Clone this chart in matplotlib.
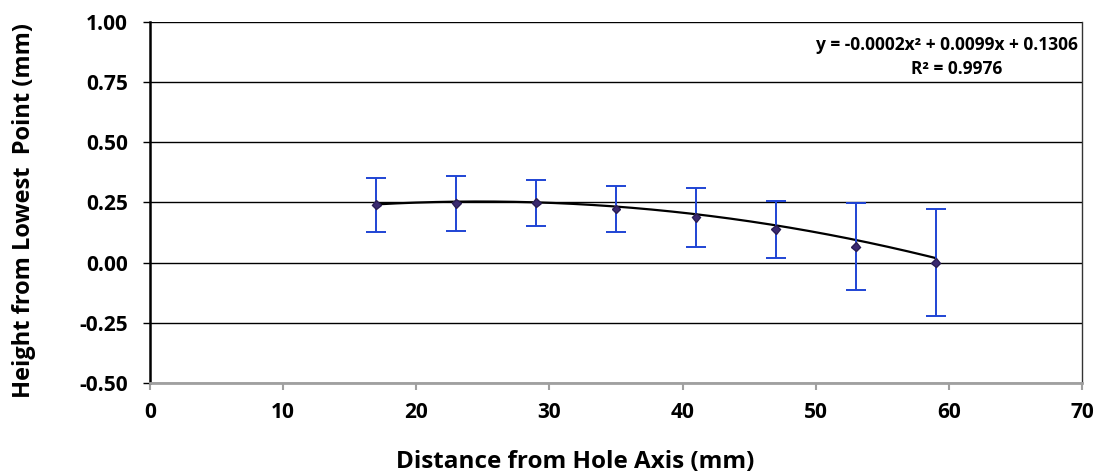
"""
Surface profile plot: height from lowest point against distance from the hole axis,
with standard-deviation error bars and a 2nd order polynomial trendline.
"""

import numpy as np
import matplotlib.pyplot as plt
import matplotlib.patheffects as pe

# Measured points
distance = [17, 23, 29, 35, 41, 47, 53, 59]
height = [0.240, 0.245, 0.248, 0.222, 0.188, 0.138, 0.065, 0.000]
height_err = [0.112, 0.115, 0.095, 0.095, 0.122, 0.118, 0.180, 0.220]

# Trendline coefficients (quadratic) as reported on the chart
trend_coef = [-0.0002, 0.0099, 0.1306]
trend_r2 = 0.9976

x_ticks = [0, 10, 20, 30, 40, 50, 60, 70]
y_ticks = [-0.50, -0.25, 0.00, 0.25, 0.50, 0.75, 1.00]

plt.rcParams["font.family"] = ["Open Sans", "DejaVu Sans"]
plt.rcParams["font.weight"] = "bold"

fig = plt.figure(figsize=(11, 4.75), dpi=100)
ax = fig.add_axes([0.1364, 0.1937, 0.8473, 0.7610])

# horizontal gridlines in black
for yv in y_ticks:
    ax.axhline(yv, color="black", linewidth=1.0, zorder=1)

# trendline across the measured range
xs = np.linspace(min(distance), max(distance), 200)
ax.plot(xs, np.polyval(trend_coef, xs), color="black", linewidth=1.6, zorder=2)

ax.errorbar(distance, height, yerr=height_err, fmt="none", ecolor="#1f44d4",
            elinewidth=1.4, capsize=7, capthick=1.4, zorder=3)
ax.plot(distance, height, linestyle="none", marker="D", markersize=4.5,
        markerfacecolor="#3b2a70", markeredgecolor="#2a1d55", zorder=4,
        path_effects=[pe.SimplePatchShadow(offset=(0, 0), shadow_rgbFace="#999999", alpha=0.6),
                      pe.Normal()])

ax.set_xlim(0, 70)
ax.set_ylim(-0.5, 1.0)
ax.set_xticks(x_ticks)
ax.set_yticks(y_ticks)
ax.set_xticklabels([str(v) for v in x_ticks])
ax.set_yticklabels([f"{v:.2f}" for v in y_ticks])
ax.tick_params(axis="both", labelsize=15, direction="out", length=5)
ax.tick_params(axis="x", color="#a0a0a0", width=1.5, pad=9)
ax.tick_params(axis="y", color="black", width=1.0, pad=11)

ax.spines["left"].set_linewidth(1.8)
ax.spines["left"].set_color("black")
ax.spines["bottom"].set_linewidth(2.0)
ax.spines["bottom"].set_color("#a0a0a0")
ax.spines["right"].set_linewidth(1.0)
ax.spines["right"].set_color("#333333")
ax.spines["top"].set_visible(False)

# axis titles placed on the figure
fig.text(575 / 1100, 1 - 462 / 475, "Distance from Hole Axis (mm)",
         ha="center", va="center", fontsize=17.5, fontweight="bold")
fig.text(24 / 1100, 1 - 211 / 475, "Height from Lowest  Point (mm)", rotation=90,
         ha="center", va="center", fontsize=17, fontweight="bold")

a, b, c = trend_coef
ax.text(0.995, 0.935, f"y = {a:.4f}x² + {b:.4f}x + {c:.4f}", transform=ax.transAxes,
        ha="right", va="center", fontsize=12.5, fontweight="bold")
ax.text((957 - 150) / 932, 0.868, f"R² = {trend_r2:.4f}", transform=ax.transAxes,
        ha="center", va="center", fontsize=12.5, fontweight="bold")

fig.savefig("out.png", dpi=100)
